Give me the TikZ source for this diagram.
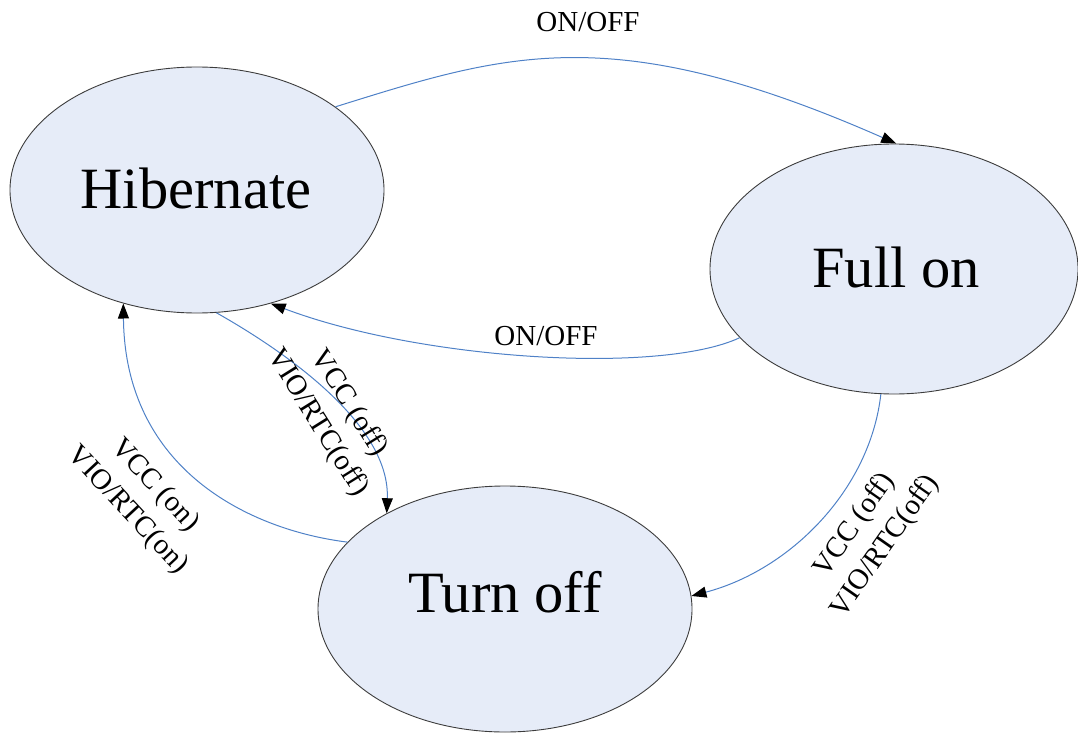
\documentclass[tikz,border=0pt]{standalone}
\usepackage{fontspec}
\setmainfont{Liberation Serif}
\usetikzlibrary{shapes.geometric,arrows.meta}
\definecolor{statefill}{RGB}{230,236,248}
\definecolor{stateline}{RGB}{60,60,60}
\definecolor{edgeblue}{RGB}{79,129,199}
\tikzset{
  statebox/.style={ellipse, draw=stateline, line width=0.9pt, fill=statefill, inner sep=0pt},
  statetext/.style={anchor=base, inner sep=0pt, font=\fontsize{58.5}{60}\selectfont},
  edgelabel/.style={inner sep=0pt, font=\fontsize{29}{37}\selectfont, align=center},
  conn/.style={draw=edgeblue, line width=1pt, -{Triangle[length=15pt,width=11pt,color=black]}}
}
\begin{document}
\begin{tikzpicture}[x=1pt,y=-1pt]
\useasboundingbox (0,0) rectangle (1078,733);
% states
\node[statebox, minimum width=374pt, minimum height=246pt] (hib) at (197,190) {};
\node[statebox, minimum width=368pt, minimum height=250pt] (full) at (894,269) {};
\node[statebox, minimum width=374pt, minimum height=246pt] (turn) at (505,609) {};
\node[statetext] (hibt) at (196,208) {Hibernate};
\node[statetext] (fullt) at (896,287) {Full on};
\node[statetext] (turnt) at (505,612) {Turn off};
% connectors
\draw[conn] (hib.31) .. controls (505,54) and (611,18) .. (full.89);
\draw[conn] (full.204) .. controls (660,375) and (420,360) .. (hib.303.5);
\draw[conn] (hib.279) .. controls (300,360) and (390,430) .. (turn.141);
\draw[conn] (turn.157) .. controls (250,530) and (125,470) .. (hib.237);
\draw[conn] (full.264) .. controls (870,490) and (790,570) .. (turn.4);
% labels
\node[edgelabel, anchor=base] (l1) at (588,32) {ON/OFF};
\node[edgelabel, anchor=base] (l2) at (546,345) {ON/OFF};
\node[edgelabel, rotate=-58] (l3) at (333,413) {VCC (off)\\VIO/RTC(off)};
\node[edgelabel, rotate=-47] (l4) at (141,498) {VCC (on)\\VIO/RTC(on)};
\node[edgelabel, rotate=55] (l5) at (870,536) {VCC (off)\\VIO/RTC(off)};
\end{tikzpicture}
\end{document}
